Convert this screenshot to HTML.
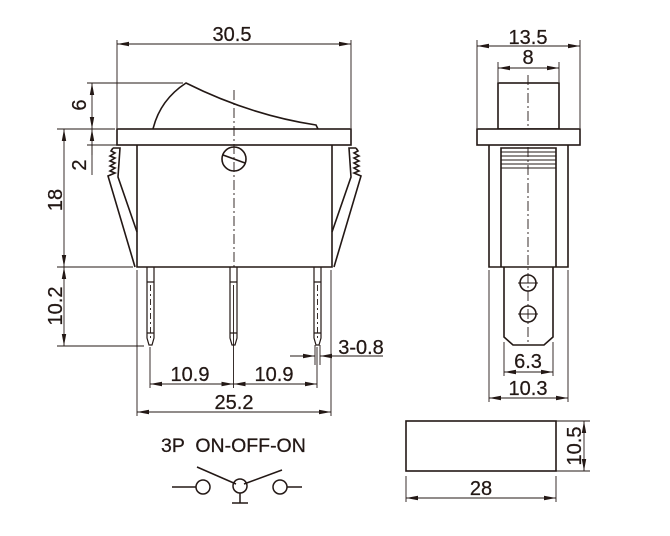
<!DOCTYPE html>
<html><head><meta charset="utf-8"><style>
html,body{margin:0;padding:0;background:#fff;width:670px;height:536px;overflow:hidden}
svg{display:block}
text{font-family:"Liberation Sans",Arial,sans-serif;fill:#231815;stroke:#231815;stroke-width:0.25}
</style></head><body>
<svg width="670" height="536" viewBox="0 0 670 536" xmlns="http://www.w3.org/2000/svg">
<defs>
<marker id="a" viewBox="0 0 12 6" refX="12" refY="3" markerWidth="12" markerHeight="6" orient="auto-start-reverse" markerUnits="userSpaceOnUse"><path d="M0,0.8 L12,3 L0,5.2z" fill="#231815" stroke="none"/></marker>
</defs>
<g stroke="#231815" fill="none" stroke-width="0.9">
<line x1="117" y1="40" x2="117" y2="128"/><line x1="351" y1="40" x2="351" y2="128"/>
<line x1="117" y1="44" x2="351" y2="44" marker-start="url(#a)" marker-end="url(#a)"/>
<line x1="87" y1="83" x2="183" y2="83"/>
<line x1="57" y1="129" x2="115" y2="129"/>
<line x1="87" y1="145" x2="120" y2="145"/>
<line x1="92" y1="83" x2="92" y2="129" marker-start="url(#a)" marker-end="url(#a)"/>
<line x1="92" y1="129" x2="92" y2="175" marker-start="url(#a)"/>
<line x1="92" y1="145" x2="92" y2="155"/>
<line x1="64" y1="129" x2="64" y2="267" marker-start="url(#a)" marker-end="url(#a)"/>
<line x1="57" y1="267" x2="133" y2="267"/>
<line x1="64" y1="267" x2="64" y2="346" marker-start="url(#a)" marker-end="url(#a)"/>
<line x1="57" y1="346" x2="144" y2="346"/>
</g>
<g stroke="#231815" fill="none" stroke-width="1.6">
<path d="M153,129 Q160,100 186,83 Q250,115 316,125 L318,129"/>
<rect x="117" y="129" width="234" height="16" fill="#fff"/>
<path d="M137,145 V267 H332 V145"/>
<circle cx="234" cy="159" r="12"/>
<line x1="223" y1="155" x2="245" y2="163"/>
<path d="M113,148 L120,148 L118,177 L137,232 M113,148 l-2,3 l4,2 l-5,3 l5,2 l-5,3 l5,2 l-5,3 l5,2 l-5,3 l5,2 l-7,3 L135,267"/>
<path d="M356,148 L349,148 L351,177 L332,232 M356,148 l2,3 l-4,2 l5,3 l-5,2 l5,3 l-5,2 l5,3 l-5,2 l5,3 l-5,2 l7,3 L334,267"/>
</g>
<g stroke="#231815" fill="none" stroke-width="1.2">
<path d="M147,267 V338 L149,345 H152 L154,338 V267 M147,282 H154 M147,333 H154"/>
<path d="M230,267 V338 L232,345 H235 L237,338 V267 M230,282 H237 M230,333 H237"/>
<path d="M314,267 V338 L316,345 H319 L321,338 V267 M314,282 H321 M314,333 H321"/>
</g>
<g stroke="#231815" fill="none" stroke-width="0.9">
<line x1="234" y1="90" x2="234" y2="267" stroke-dasharray="10,3,2,3"/>
<line x1="150.5" y1="285" x2="150.5" y2="340" stroke-dasharray="6,3,2,3"/>
<line x1="317.5" y1="285" x2="317.5" y2="340" stroke-dasharray="6,3,2,3"/>
<line x1="233.5" y1="285" x2="233.5" y2="388"/>
<line x1="150" y1="347" x2="150" y2="388"/>
<line x1="317" y1="347" x2="317" y2="388"/>
<line x1="315" y1="345" x2="315" y2="365"/><line x1="320" y1="345" x2="320" y2="365"/>
<line x1="150" y1="384" x2="233.5" y2="384" marker-start="url(#a)" marker-end="url(#a)"/>
<line x1="233.5" y1="384" x2="317" y2="384" marker-start="url(#a)" marker-end="url(#a)"/>
<line x1="137" y1="270" x2="137" y2="416"/><line x1="331" y1="270" x2="331" y2="416"/>
<line x1="137" y1="412" x2="331" y2="412" marker-start="url(#a)" marker-end="url(#a)"/>
<line x1="290" y1="356" x2="315" y2="356" marker-end="url(#a)"/>
<line x1="383" y1="356" x2="320" y2="356" marker-end="url(#a)"/>
</g>
<g stroke="#231815" fill="none" stroke-width="1.5">
<line x1="172" y1="487" x2="196" y2="487"/>
<circle cx="203" cy="487" r="7"/>
<circle cx="240" cy="486" r="7"/>
<circle cx="280" cy="487" r="7"/>
<line x1="287" y1="487" x2="302" y2="487"/>
<line x1="197" y1="467" x2="236" y2="484"/>
<line x1="244" y1="484" x2="282" y2="470"/>
<line x1="240" y1="493" x2="240" y2="503"/>
<line x1="232" y1="503" x2="248" y2="503"/>
</g>
<g stroke="#231815" fill="none" stroke-width="0.9">
<line x1="477" y1="40" x2="477" y2="128"/><line x1="580" y1="40" x2="580" y2="128"/>
<line x1="477" y1="46" x2="580" y2="46" marker-start="url(#a)" marker-end="url(#a)"/>
<line x1="498" y1="62" x2="498" y2="82"/><line x1="559" y1="62" x2="559" y2="82"/>
<line x1="498" y1="68" x2="559" y2="68" marker-start="url(#a)" marker-end="url(#a)"/>
<line x1="528" y1="75" x2="528" y2="345" stroke-dasharray="10,3,2,3"/>
<line x1="504" y1="342" x2="504" y2="376"/><line x1="553" y1="342" x2="553" y2="376"/>
<line x1="504" y1="372" x2="553" y2="372" marker-start="url(#a)" marker-end="url(#a)"/>
<line x1="489" y1="270" x2="489" y2="402"/><line x1="568" y1="270" x2="568" y2="402"/>
<line x1="489" y1="398" x2="568" y2="398" marker-start="url(#a)" marker-end="url(#a)"/>
<line x1="518" y1="283" x2="538" y2="283"/><line x1="518" y1="314" x2="538" y2="314"/>
</g>
<g stroke="#231815" fill="none" stroke-width="1.6">
<rect x="498" y="83" width="61" height="46"/>
<rect x="477" y="129" width="103" height="16" fill="#fff"/>
<path d="M489,145 V267 H568 V145"/>
<path d="M501,267 V148 H556 V267"/>
<path d="M504,267 V337 L513,345 H544 L553,337 V267"/>
<circle cx="528" cy="283" r="8"/><circle cx="528" cy="314" r="8"/>
</g>
<g stroke="#231815" stroke-width="1.1">
<line x1="501" y1="152" x2="556" y2="152"/><line x1="501" y1="156" x2="556" y2="156"/>
<line x1="501" y1="160" x2="556" y2="160"/><line x1="501" y1="164" x2="556" y2="164"/>
<line x1="501" y1="168" x2="556" y2="168"/>
</g>
<g stroke="#231815" fill="none" stroke-width="0.9">
<line x1="556" y1="421" x2="590" y2="421"/><line x1="556" y1="471" x2="590" y2="471"/>
<line x1="584" y1="421" x2="584" y2="471" marker-start="url(#a)" marker-end="url(#a)"/>
<line x1="406" y1="476" x2="406" y2="502"/><line x1="556" y1="476" x2="556" y2="502"/>
<line x1="406" y1="498" x2="556" y2="498" marker-start="url(#a)" marker-end="url(#a)"/>
</g>
<rect x="406" y="421" width="150" height="50" fill="none" stroke="#231815" stroke-width="1.6"/>
<g font-size="20">
<text x="232" y="41" text-anchor="middle">30.5</text>
<text x="528" y="44" text-anchor="middle">13.5</text>
<text x="528" y="64" text-anchor="middle">8</text>
<text x="528" y="368" text-anchor="middle">6.3</text>
<text x="528" y="395" text-anchor="middle">10.3</text>
<text x="190" y="381" text-anchor="middle">10.9</text>
<text x="274" y="381" text-anchor="middle">10.9</text>
<text x="234" y="409" text-anchor="middle">25.2</text>
<text x="361" y="354" text-anchor="middle">3-0.8</text>
<text x="481" y="495" text-anchor="middle">28</text>
<text transform="translate(86,105) rotate(-90)" text-anchor="middle">6</text>
<text transform="translate(86,165) rotate(-90)" text-anchor="middle">2</text>
<text transform="translate(62,200) rotate(-90)" text-anchor="middle">18</text>
<text transform="translate(62,306) rotate(-90)" text-anchor="middle">10.2</text>
<text transform="translate(581,446) rotate(-90)" text-anchor="middle">10.5</text>
</g>
<text x="161" y="452" font-size="19.5" xml:space="preserve" style="white-space:pre">3P  ON-OFF-ON</text>
</svg>
</body></html>
